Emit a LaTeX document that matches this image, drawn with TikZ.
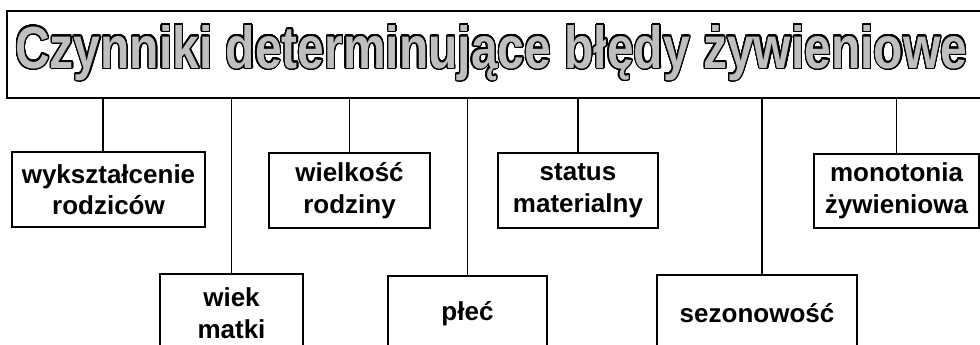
\documentclass[tikz,border=0pt]{standalone}
\usepackage{fontspec}
\setmainfont{Liberation Sans}
\usepackage{contour}
\contourlength{1.0pt}
\contournumber{32}
\begin{document}
\begin{tikzpicture}[x=1pt,y=-1pt,
  headbox/.style={draw=black, line width=2.2pt, inner sep=0pt, anchor=north west},
  factor/.style={draw=black, line width=1.8pt, fill=white, align=center, inner sep=0pt,
    font=\fontsize{26}{31.5}\selectfont\bfseries},
  link/.style={draw=black, line width=1.2pt}]
\useasboundingbox (0,0) rectangle (980,345);
\fill[white] (0,0) rectangle (980,345);

% heading frame and outlined heading text
\node[headbox, minimum width=990pt, minimum height=87pt] (title) at (6,10) {};
\node[anchor=base west, inner sep=0pt] (titletext) at (15,68)
  {\resizebox{952pt}{43pt}{\bfseries\fontsize{40}{40}\selectfont\contour{black}{\textcolor{black!25}{Czynniki determinujące błędy żywieniowe}}}};

% upper row of factors
\node[factor, minimum width=193pt, minimum height=75pt] (edu)  at (108.5,189.5) {wykształcenie\\rodziców};
\node[factor, minimum width=161pt, minimum height=75pt] (size) at (349.5,190.5) {wielkość\\rodziny};
\node[factor, minimum width=160pt, minimum height=75pt] (wealth) at (578,190.5) {status\\materialny};
\node[factor, minimum width=165pt, minimum height=74pt] (mono) at (896.5,191) {monotonia\\żywieniowa};

% lower row of factors
\node[factor, minimum width=143pt, minimum height=78pt] (age) at (231.5,313) {wiek\\matki};
\node[factor, minimum width=159pt, minimum height=76pt] (sex) at (467.5,314) {płeć};
\node[factor, minimum width=200pt, minimum height=76pt] (season) at (757,313) {sezonowość};

% connector feet that sit slightly off the box centres
\coordinate (eduTop) at ([xshift=-5.5pt]edu.north);
\coordinate (seasonTop) at ([xshift=5pt]season.north);

% connectors from the heading
\draw[link] (eduTop) -- (eduTop |- title.south);
\draw[link] (age.north) -- (age.north |- title.south);
\draw[link] (size.north) -- (size.north |- title.south);
\draw[link] (sex.north) -- (sex.north |- title.south);
\draw[link] (wealth.north) -- (wealth.north |- title.south);
\draw[link] (seasonTop) -- (seasonTop |- title.south);
\draw[link] (mono.north) -- (mono.north |- title.south);
\end{tikzpicture}
\end{document}
